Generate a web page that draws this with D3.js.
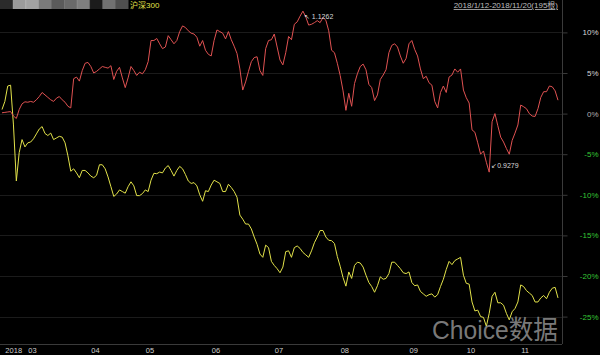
<!DOCTYPE html>
<html>
<head>
<meta charset="utf-8">
<script src="https://cdn.jsdelivr.net/npm/d3@7"></script>
<style>
  body { margin: 0; background: #000; }
  svg { display: block; }
</style>
</head>
<body>
<svg id="chart" width="600" height="355"></svg>
<script>
"use strict";
// percent change vs first day, one value per trading bar (195 bars)
var stockValues = [
  0.1, 0.15, 0.2, 0.25, -0.3, -0.6, 0.5, 1.2, 1.45, 1.4,
  1.5, 1.4, 1.7, 2.1, 2.6, 2.3, 2.0, 1.7, 1.5, 1.9,
  2.1, 1.7, 1.4, 0.9, 0.7, 4.3, 4.5, 4.0, 5.3, 6.2,
  6.3, 5.8, 5.0, 5.2, 5.5, 5.8, 5.7, 5.6, 5.9, 4.2,
  5.2, 5.7, 4.4, 3.2, 4.4, 5.8, 5.3, 4.7, 5.1, 4.9,
  5.4, 6.4, 9.0, 9.0, 9.25, 8.6, 8.0, 8.2, 9.6, 9.1,
  8.6, 9.0, 10.1, 10.8, 10.6, 10.2, 9.9, 9.8, 9.4, 8.3,
  9.0, 7.8, 7.3, 7.1, 9.0, 10.3, 10.1, 9.9, 9.2, 10.1,
  9.1, 8.3, 7.4, 5.5, 2.9, 3.9, 5.2, 6.4, 6.9, 7.0,
  5.3, 4.7, 8.0, 9.0, 9.1, 9.8, 8.2, 6.6, 6.0, 7.5,
  9.5, 9.1, 11.0, 11.3, 12.0, 12.62, 11.9, 10.9, 11.0, 11.2,
  11.45, 11.2, 11.85, 11.5, 10.2, 7.8, 7.5, 6.2, 4.7, 2.8,
  0.4, 2.5, 0.9, 3.7, 4.9, 5.8, 6.1, 5.4, 3.6, 3.2,
  1.6, 2.3, 4.2, 4.75, 5.4, 7.5, 8.4, 8.6, 8.2, 7.1,
  6.2, 6.8, 8.6, 9.0, 7.9, 7.1, 5.5, 4.3, 4.6, 3.8,
  3.5, 1.5, 0.7, 2.6, 3.4, 2.6, 4.5, 4.75, 5.5, 5.1,
  5.5, 2.9, 1.95, 1.3, -2.0, -2.3, -3.6, -5.0, -4.6, -6.0,
  -7.21, -1.0, 0.0, -1.5, -2.9, -3.5, -4.3, -5.0, -3.3, -2.4,
  -1.4, 1.05, 0.85, 0.6, 0.0, -0.3, -0.35, 0.6, 2.0, 2.7,
  2.7, 3.4, 3.3, 2.8, 1.65
];
var hs300Values = [
  0.5, 1.5, 3.4, 3.5, -1.4, -8.3, -4.8, -3.2, -4.1, -3.6,
  -3.5, -3.1, -2.5, -1.9, -1.6, -2.45, -2.7, -2.4, -3.2, -3.0,
  -2.8, -2.9, -3.6, -5.2, -7.1, -6.8, -7.3, -7.9, -7.0, -7.0,
  -7.3, -7.7, -7.9, -7.6, -6.3, -6.3, -6.8, -7.8, -9.0, -10.2,
  -9.9, -9.4, -9.6, -9.8, -9.0, -8.4, -8.9, -10.1, -10.1, -9.85,
  -9.4, -9.6, -8.2, -7.35, -7.4, -7.2, -7.3, -6.7, -6.4, -7.0,
  -7.7, -7.0, -6.5, -6.8, -7.5, -8.3, -8.6, -8.5, -8.9, -10.0,
  -10.8, -9.5, -9.6, -8.8, -8.2, -8.4, -8.6, -9.6, -9.6, -8.7,
  -9.1, -9.6, -10.3, -12.5, -13.0, -13.6, -13.6, -14.2, -15.2, -16.1,
  -17.3, -17.7, -16.2, -16.5, -18.2, -18.7, -19.1, -19.6, -18.9, -17.0,
  -16.9, -17.7, -16.5, -16.3, -16.6, -17.1, -17.4, -17.7, -16.9, -15.9,
  -15.2, -14.4, -14.4, -15.2, -15.6, -15.65, -16.0, -17.6, -18.8, -20.2,
  -21.25, -19.5, -20.3, -18.7, -18.3, -18.4, -18.9, -19.9, -20.8, -21.3,
  -22.0, -21.2, -20.1, -20.4, -20.3, -19.7, -18.3, -18.3, -18.7, -19.1,
  -19.6, -19.7, -19.5, -20.8, -21.2, -21.1, -21.9, -22.2, -22.5, -22.3,
  -22.2, -22.6, -22.3, -21.3, -20.4, -19.2, -18.2, -18.6, -18.1, -17.9,
  -17.7, -19.9, -20.9, -21.0, -23.2, -24.3, -24.2, -25.0, -25.1, -26.2,
  -24.6, -22.5, -22.0, -23.3, -23.3, -23.6, -24.6, -25.4, -24.4, -24.0,
  -23.2, -21.1, -21.3, -21.8, -22.1, -22.4, -23.2, -23.2, -22.7, -22.4,
  -22.8, -22.0, -21.5, -21.4, -22.7
];
var monthTickIndex = [1, 9, 31, 50, 73, 95, 118, 142, 162, 181];
var monthLabels = ["2018", "03", "04", "05", "06", "07", "08", "09", "10", "11"];
var percentTicks = [10, 5, 0, -5, -10, -15, -20, -25];
var rangeLabel = "2018/1/12-2018/11/20(195根)";
var legendLabel = "沪深300";
var maxLabel = "1.1262";
var minLabel = "0.9279";
// greys of the pixelated title at the top left
var mosaicShades = ["#3a3a3a", "#cfcfcf", "#d8d8d8", "#a4a4a4", "#7a7a7a", "#8e8e8e", "#a9a9a9", "#262626", "#979797", "#6a6a6a"];

var plotRight = 562, axisY = 344;
var numFont = "'Liberation Sans', Arial, sans-serif";
var cjkFont = "'Liberation Sans', 'Noto Sans CJK SC', sans-serif";

var svg = d3.select("#chart");
svg.append("rect").attr("width", 600).attr("height", 355).attr("fill", "#000");

var x = d3.scaleLinear().domain([0, stockValues.length - 1]).range([2, 558]);
var y = d3.scaleLinear().domain([-25, 10]).range([316.6, 32.4]);

// grid
svg.append("g").selectAll("line").data(percentTicks).join("line")
  .attr("x1", 0).attr("x2", plotRight)
  .attr("y1", function (d) { return Math.round(y(d)) + 0.5; })
  .attr("y2", function (d) { return Math.round(y(d)) + 0.5; })
  .attr("stroke", "#1b1b1b").attr("stroke-width", 1);

// frame lines
svg.append("line").attr("x1", plotRight + 0.5).attr("x2", plotRight + 0.5)
  .attr("y1", 0).attr("y2", axisY).attr("stroke", "#3a3a3a");
svg.append("line").attr("x1", 0).attr("x2", plotRight)
  .attr("y1", axisY + 0.5).attr("y2", axisY + 0.5).attr("stroke", "#3a3a3a");

// right axis
var yAxis = svg.append("g")
  .attr("transform", "translate(" + (plotRight + 0.5) + ",0)")
  .call(d3.axisRight(y).tickValues(percentTicks).tickSize(5)
    .tickFormat(function (d) { return d + "%"; }));
yAxis.select(".domain").remove();
yAxis.selectAll(".tick line").attr("stroke", "#3a3a3a");
yAxis.selectAll(".tick text")
  .attr("x", 36).attr("text-anchor", "end")
  .attr("font-family", numFont).attr("font-size", 8)
  .attr("fill", function (d) { return d < 0 ? "#35c535" : (d === 0 ? "#b0b0b0" : "#d6d6d6"); });

// bottom axis
var xAxis = svg.append("g")
  .attr("transform", "translate(0," + axisY + ")")
  .call(d3.axisBottom(x).tickValues(monthTickIndex).tickSize(0)
    .tickFormat(function (d, i) { return monthLabels[i]; }));
xAxis.select(".domain").remove();
xAxis.selectAll(".tick text")
  .attr("text-anchor", "start").attr("y", 3.5)
  .attr("font-family", numFont).attr("font-size", 7.5)
  .attr("fill", "#cfcfcf");

// series
var line = d3.line()
  .x(function (d, i) { return x(i); })
  .y(function (d) { return y(d); });

svg.append("path").datum(hs300Values)
  .attr("d", line).attr("fill", "none")
  .attr("stroke", "#e2e24a").attr("stroke-width", 1);
svg.append("path").datum(stockValues)
  .attr("d", line).attr("fill", "none")
  .attr("stroke", "#e05252").attr("stroke-width", 1);

// max / min markers
var iMax = d3.maxIndex(stockValues), iMin = d3.minIndex(stockValues);
svg.append("text")
  .attr("x", x(iMax) + 1).attr("y", y(stockValues[iMax]) + 8)
  .attr("font-family", numFont).attr("font-size", 7).attr("fill", "#d8d8d8")
  .text("\u2196 " + maxLabel);
svg.append("text")
  .attr("x", x(iMin) + 2).attr("y", y(stockValues[iMin]) - 4)
  .attr("font-family", numFont).attr("font-size", 7).attr("fill", "#d8d8d8")
  .text("\u2199" + minLabel);

// watermark
svg.append("text")
  .attr("x", 432).attr("y", 339)
  .attr("font-family", cjkFont).attr("font-size", 26)
  .attr("textLength", 126).attr("lengthAdjust", "spacingAndGlyphs")
  .attr("fill", "#8a8a8a").attr("fill-opacity", 0.9)
  .text("Choice数据");

// header
var mosaicX = d3.scaleBand().domain(d3.range(mosaicShades.length)).range([0, 128]);
svg.append("g").selectAll("rect").data(mosaicShades).join("rect")
  .attr("x", function (d, i) { return mosaicX(i); })
  .attr("y", 0)
  .attr("width", mosaicX.bandwidth() + 0.5)
  .attr("height", 9)
  .attr("fill", function (d) { return d; })
  .attr("opacity", 0.75);

svg.append("text")
  .attr("x", 130).attr("y", 8)
  .attr("font-family", cjkFont).attr("font-size", 8)
  .attr("fill", "#e2e24a")
  .text(legendLabel);

svg.append("text")
  .attr("x", 558).attr("y", 8).attr("text-anchor", "end")
  .attr("font-family", cjkFont).attr("font-size", 8)
  .attr("fill", "#bdbdbd").attr("text-decoration", "underline")
  .text(rangeLabel);
</script>
</body>
</html>
